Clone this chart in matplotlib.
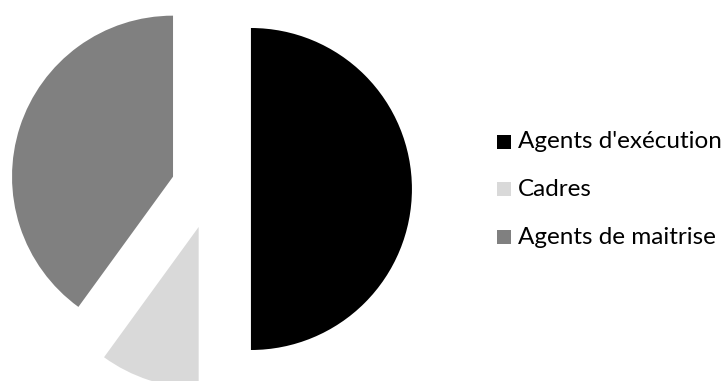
import matplotlib
matplotlib.use("Agg")
import matplotlib.pyplot as plt
from matplotlib.patches import Rectangle

labels = ["Agents d'exécution", "Cadres", "Agents de maitrise"]
values = [50, 10, 40]
colors = ["#000000", "#d9d9d9", "#808080"]

W, H = 725, 381
R = 161
fig = plt.figure(figsize=(W / 100, H / 100), dpi=100)
ax = fig.add_axes([0, 0, 1, 1])
ax.pie(values, colors=colors, startangle=90, counterclock=False,
       explode=[0.248 * R] * len(values), radius=R, center=(211, H - 189),
       wedgeprops=dict(linewidth=0))
ax.set_xlim(0, W)
ax.set_ylim(0, H)
ax.set_aspect("equal")
ax.axis("off")

row_y = [142, 189, 237]
for lab, col, yi in zip(labels, colors, row_y):
    y = H - yi
    ax.add_patch(Rectangle((497, y - 7), 14, 14, facecolor=col, edgecolor="none"))
    ax.text(518, y, lab, va="center", ha="left", fontsize=17.5,
            family=["Lato", "DejaVu Sans"], color="#000000")

fig.savefig("out.png", dpi=100)
